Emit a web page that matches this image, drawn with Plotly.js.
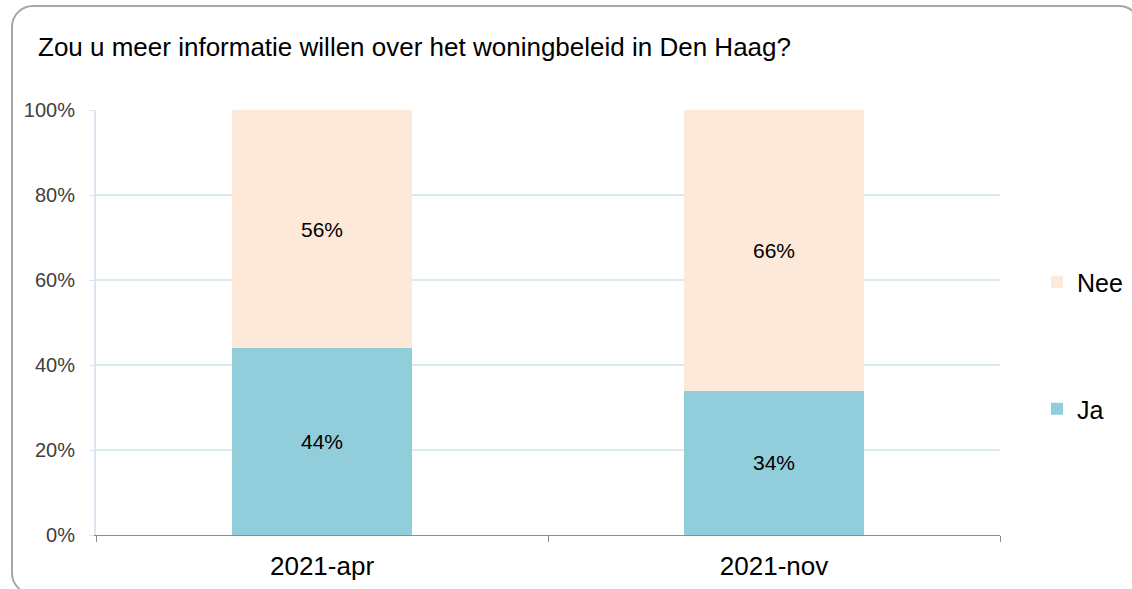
<!DOCTYPE html>
<html>
<head>
<meta charset="utf-8">
<script src="https://cdn.plot.ly/plotly-3.0.1.min.js"></script>
<style>
  html, body { margin: 0; padding: 0; background: #fff; overflow: hidden; }
  #wrap { position: relative; width: 1132px; height: 589px; }
  #chart { width: 1132px; height: 589px; }
  #frame {
    position: absolute; left: 11px; top: 5px; width: 1126px; height: 586px;
    border: 2px solid #a6a6a6; border-radius: 22px; pointer-events: none;
  }
</style>
</head>
<body>
<div id="wrap">
  <div id="chart"></div>
  <div id="frame"></div>
</div>
<script>
// data
const periods = ['2021-apr', '2021-nov'];
const ja = [44, 34];
const nee = [56, 66];

const font = 'Arial, "Liberation Sans", sans-serif';

const jaTrace = {
  x: periods, y: ja, type: 'bar', name: 'Ja',
  marker: { color: '#92cddc' },
  text: ja.map(v => v + '%'), texttemplate: '%{text}',
  textposition: 'inside', insidetextanchor: 'middle',
  textfont: { family: font, size: 21, color: '#000' },
  hoverinfo: 'skip', legend: 'legend2'
};

const neeTrace = {
  x: periods, y: nee, type: 'bar', name: 'Nee',
  marker: { color: '#fde9d9' },
  text: nee.map(v => v + '%'), texttemplate: '%{text}',
  textposition: 'inside', insidetextanchor: 'middle',
  textfont: { family: font, size: 21, color: '#000' },
  hoverinfo: 'skip', legend: 'legend'
};

const legendStyle = {
  xref: 'container', yref: 'container', xanchor: 'left', yanchor: 'middle',
  font: { family: font, size: 25, color: '#000' },
  itemwidth: 30, bgcolor: 'rgba(0,0,0,0)'
};

const layout = {
  width: 1132, height: 589,
  margin: { l: 96, r: 132, t: 110, b: 54, autoexpand: false },
  barmode: 'stack', bargap: 0.6,
  paper_bgcolor: '#fff', plot_bgcolor: '#fff',
  font: { family: font, color: '#000' },
  title: {
    text: 'Zou u meer informatie willen over het woningbeleid in Den Haag?',
    font: { family: font, size: 26, color: '#000' },
    xref: 'container', x: 38 / 1132, xanchor: 'left',
    yref: 'container', y: 1 - 47 / 589, yanchor: 'middle'
  },
  xaxis: {
    type: 'category', tickson: 'boundaries', ticks: 'outside', ticklen: 6,
    tickcolor: '#8c8c8c', showline: true, linecolor: '#8c8c8c', linewidth: 1,
    showgrid: false, ticklabelstandoff: 8,
    tickfont: { family: font, size: 26, color: '#000' }
  },
  yaxis: {
    range: [0, 100], dtick: 20, ticksuffix: '%',
    ticks: 'outside', ticklen: 5, tickcolor: '#dbe6f1',
    showline: true, linecolor: '#dbe6f1', linewidth: 2,
    gridcolor: '#dbe9f1', gridwidth: 2, zeroline: false,
    ticklabelstandoff: 10,
    tickfont: { family: font, size: 20, color: '#404040' }
  },
  legend: Object.assign({}, legendStyle, { x: 1037 / 1132, y: 1 - 282 / 589 }),
  legend2: Object.assign({}, legendStyle, { x: 1037 / 1132, y: 1 - 409 / 589 }),
  showlegend: true
};

Plotly.newPlot('chart', [jaTrace, neeTrace], layout, { displayModeBar: false, staticPlot: true });
</script>
</body>
</html>
